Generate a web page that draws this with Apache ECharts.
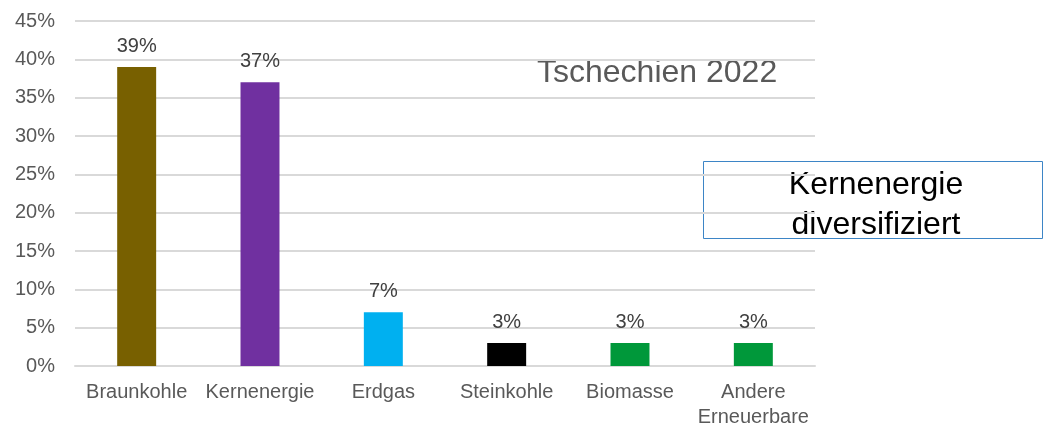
<!DOCTYPE html>
<html>
<head>
<meta charset="utf-8">
<script src="https://cdn.jsdelivr.net/npm/echarts@6/dist/echarts.min.js"></script>
<style>
html,body{margin:0;padding:0;background:#fff;}
#c{width:1044px;height:425px;}
</style>
</head>
<body>
<div id="c"></div>
<script>
const categories = ['Braunkohle', 'Kernenergie', 'Erdgas', 'Steinkohle', 'Biomasse', 'Andere\nErneuerbare'];
const values = [39, 37, 7, 3, 3, 3];
const barColors = ['#786000', '#7030a0', '#00b0f0', '#000000', '#00983a', '#00983a'];
const titleText = 'Tschechien 2022';
const boxText = 'Kernenergie\ndiversifiziert';

const FONT = '"Liberation Sans", Arial, sans-serif';
const chart = echarts.init(document.getElementById('c'), null, {renderer: 'canvas'});
chart.setOption({
  animation: false,
  backgroundColor: '#ffffff',
  grid: {left: 75, right: 229, top: 21, bottom: 59, containLabel: false, outerBoundsMode: 'none'},
  xAxis: {
    type: 'category',
    data: categories,
    axisLine: {show: true, lineStyle: {color: '#d9d9d9', width: 2}},
    axisTick: {show: false},
    axisLabel: {color: '#595959', fontSize: 20, fontFamily: FONT, margin: 14, lineHeight: 25, interval: 0}
  },
  yAxis: {
    type: 'value',
    min: 0, max: 45, interval: 5,
    axisLine: {show: false},
    axisTick: {show: false},
    splitLine: {lineStyle: {color: '#d9d9d9', width: 2}},
    axisLabel: {color: '#595959', fontSize: 20, fontFamily: FONT, margin: 20, formatter: '{value}%'}
  },
  series: [{
    type: 'bar',
    data: values.map((v, i) => ({value: v, itemStyle: {color: barColors[i]}})),
    barWidth: '31.6%',
    label: {show: true, position: 'top', distance: 11, color: '#404040', fontSize: 20, fontFamily: FONT, formatter: '{c}%'}
  }],
  graphic: [
    {
      type: 'text', left: 537, top: 57,
      style: {text: titleText, fill: '#595959', font: '32px ' + FONT}
    },
    {
      type: 'rect', shape: {x: 703.5, y: 161.5, width: 339, height: 77},
      style: {fill: '#ffffff', stroke: '#3d85c6', lineWidth: 1}
    },
    {
      type: 'text', x: 876, y: 205,
      style: {text: boxText, fill: '#000000', font: '32px ' + FONT, align: 'center', verticalAlign: 'middle', lineHeight: 40}
    }
  ]
});
</script>
</body>
</html>
